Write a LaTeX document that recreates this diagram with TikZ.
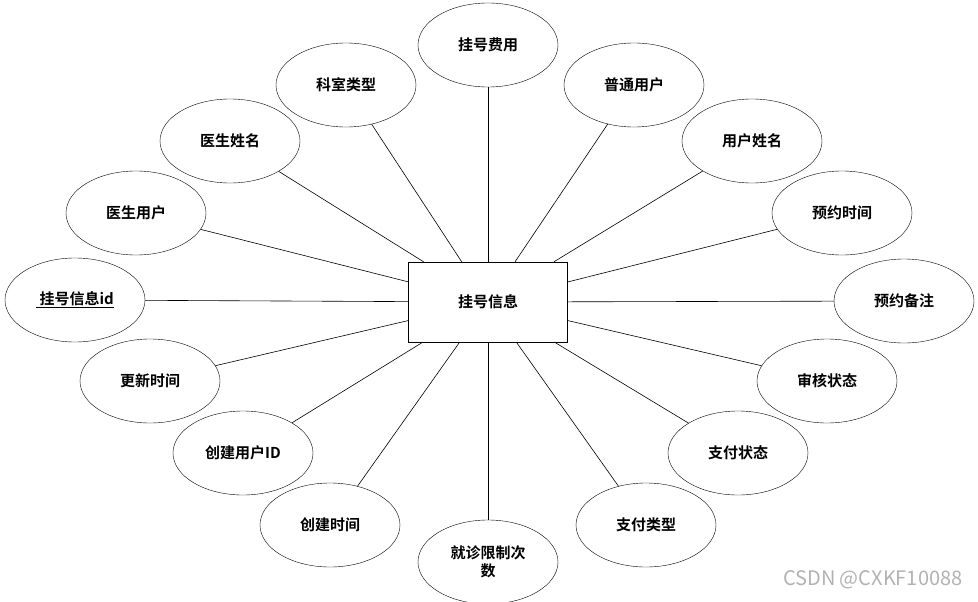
\documentclass[tikz,border=0pt]{standalone}
\usepackage{fontspec}
\usetikzlibrary{shapes.geometric}
\setmainfont{Noto Sans CJK SC}[BoldFont={Noto Sans CJK SC Bold}]
\begin{document}
\begin{tikzpicture}[x=1pt,y=-1pt,
  attr/.style={draw,ellipse,minimum width=140pt,minimum height=84pt,inner sep=0pt,font=\fontsize{15}{18}\selectfont\bfseries,align=center},
  ent/.style={draw,rectangle,minimum width=159pt,minimum height=80pt,font=\fontsize{15}{18}\selectfont\bfseries},
  link/.style={draw,line width=0.6pt}]
\useasboundingbox (0,0) rectangle (978,602);
\node[ent] (c) at (488,302) {挂号信息};
\node[attr] (a1) at (488,45) {挂号费用};
\node[attr] (a2) at (346,85) {科室类型};
\node[attr] (a3) at (634,85) {普通用户};
\node[attr] (a4) at (230,141) {医生姓名};
\node[attr] (a5) at (752,141) {用户姓名};
\node[attr] (a6) at (136,213) {医生用户};
\node[attr] (a7) at (842,213) {预约时间};
\node[attr] (a8) at (75,300) {\underline{\ 挂号信息id}};
\node[attr] (a9) at (904,301) {预约备注};
\node[attr] (a10) at (150,381) {更新时间};
\node[attr] (a11) at (827,381) {审核状态};
\node[attr] (a12) at (243,453) {创建用户ID};
\node[attr] (a13) at (738,453) {支付状态};
\node[attr] (a14) at (330,525) {创建时间};
\node[attr] (a15) at (646,525) {支付类型};
\node[attr] (a16) at (488,562) {就诊限制次\\数};
\foreach \i in {1,...,16} \draw[link] (a\i) -- (c);
\node[text=gray!60,font=\fontsize{20}{24}\selectfont,anchor=east] (wm) at (966,580) {CSDN @CXKF10088};
\end{tikzpicture}
\end{document}
